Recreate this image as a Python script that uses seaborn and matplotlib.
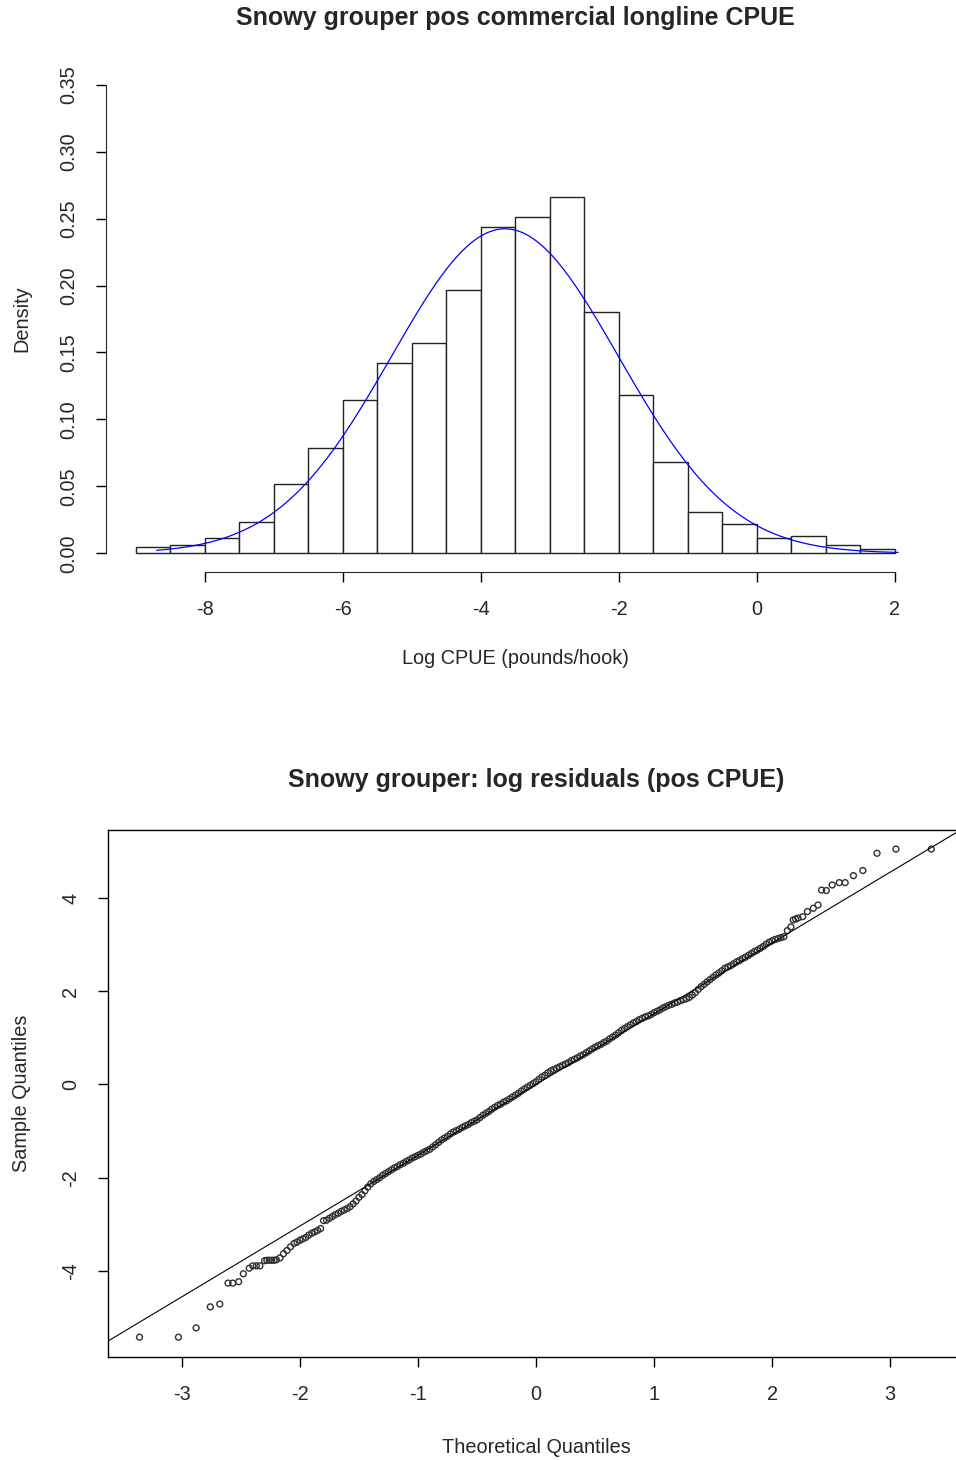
import numpy as np
import matplotlib
matplotlib.use("Agg")
import matplotlib.pyplot as plt
import seaborn as sns
from matplotlib.ticker import FormatStrFormatter

# Histogram of log CPUE (density per 0.5 bin)
hist_edges = [-9.0, -8.5, -8.0, -7.5, -7.0, -6.5, -6.0, -5.5, -5.0, -4.5, -4.0, -3.5,
              -3.0, -2.5, -2.0, -1.5, -1.0, -0.5, 0.0, 0.5, 1.0, 1.5, 2.0]
hist_density = [0.0045, 0.0064, 0.0112, 0.0236, 0.0518, 0.0785, 0.1144, 0.1418,
                0.1568, 0.1970, 0.2438, 0.2515, 0.2660, 0.1805, 0.1180, 0.0680,
                0.0311, 0.0217, 0.0112, 0.0130, 0.0064, 0.0034]

# fitted normal overlay
norm_mean = -3.65
norm_sd = 1.646
curve_from, curve_to = -8.70, 2.05

# QQ plot of log residuals (theoretical, sample)
low_theo = [-3.36, -3.03, -2.88, -2.76, -2.68, -2.61, -2.57, -2.52, -2.48, -2.43,
            -2.40, -2.37, -2.34, -2.30, -2.28, -2.26, -2.24, -2.22, -2.20, -2.17,
            -2.14, -2.11, -2.08, -2.05, -2.025]
low_sample = [-5.42, -5.42, -5.22, -4.77, -4.71, -4.26, -4.26, -4.23, -4.06, -3.94,
              -3.89, -3.89, -3.89, -3.78, -3.77, -3.77, -3.77, -3.77, -3.76, -3.72,
              -3.63, -3.56, -3.48, -3.41, -3.38]

mid_theo = [-2.000, -1.975, -1.950, -1.925, -1.900, -1.875, -1.850, -1.825, -1.800, -1.775,
            -1.750, -1.725, -1.700, -1.675, -1.650, -1.625, -1.600, -1.575, -1.550, -1.525,
            -1.500, -1.475, -1.450, -1.425, -1.400, -1.375, -1.350, -1.325, -1.300, -1.275,
            -1.250, -1.225, -1.200, -1.175, -1.150, -1.125, -1.100, -1.075, -1.050, -1.025,
            -1.000, -0.975, -0.950, -0.925, -0.900, -0.875, -0.850, -0.825, -0.800, -0.775,
            -0.750, -0.725, -0.700, -0.675, -0.650, -0.625, -0.600, -0.575, -0.550, -0.525,
            -0.500, -0.475, -0.450, -0.425, -0.400, -0.375, -0.350, -0.325, -0.300, -0.275,
            -0.250, -0.225, -0.200, -0.175, -0.150, -0.125, -0.100, -0.075, -0.050, -0.025,
            0.000, 0.025, 0.050, 0.075, 0.100, 0.125, 0.150, 0.175, 0.200, 0.225,
            0.250, 0.275, 0.300, 0.325, 0.350, 0.375, 0.400, 0.425, 0.450, 0.475,
            0.500, 0.525, 0.550, 0.575, 0.600, 0.625, 0.650, 0.675, 0.700, 0.725,
            0.750, 0.775, 0.800, 0.825, 0.850, 0.875, 0.900, 0.925, 0.950, 0.975,
            1.000, 1.025, 1.050, 1.075, 1.100, 1.125, 1.150, 1.175, 1.200, 1.225,
            1.250, 1.275, 1.300, 1.325, 1.350, 1.375, 1.400, 1.425, 1.450, 1.475,
            1.500, 1.525, 1.550, 1.575, 1.600, 1.625, 1.650, 1.675, 1.700, 1.725,
            1.750, 1.775, 1.800, 1.825, 1.850, 1.875, 1.900, 1.925, 1.950, 1.975,
            2.000, 2.025, 2.050, 2.075, 2.100]
mid_sample = [-3.34, -3.31, -3.28, -3.23, -3.19, -3.16, -3.13, -3.09, -2.92, -2.91,
              -2.87, -2.83, -2.79, -2.76, -2.72, -2.69, -2.66, -2.62, -2.56, -2.50,
              -2.42, -2.36, -2.28, -2.20, -2.13, -2.08, -2.04, -2.00, -1.95, -1.91,
              -1.87, -1.83, -1.79, -1.76, -1.72, -1.69, -1.65, -1.62, -1.58, -1.55,
              -1.52, -1.49, -1.45, -1.42, -1.39, -1.34, -1.29, -1.24, -1.19, -1.15,
              -1.11, -1.06, -1.02, -0.99, -0.96, -0.92, -0.89, -0.86, -0.82, -0.79,
              -0.76, -0.71, -0.66, -0.62, -0.58, -0.53, -0.49, -0.45, -0.42, -0.38,
              -0.35, -0.31, -0.27, -0.23, -0.19, -0.14, -0.10, -0.06, -0.02, 0.02,
              0.06, 0.11, 0.16, 0.20, 0.25, 0.29, 0.32, 0.35, 0.38, 0.41,
              0.44, 0.47, 0.51, 0.54, 0.57, 0.61, 0.64, 0.68, 0.72, 0.76,
              0.80, 0.83, 0.86, 0.90, 0.93, 0.98, 1.02, 1.06, 1.11, 1.16,
              1.20, 1.24, 1.28, 1.32, 1.35, 1.39, 1.42, 1.45, 1.47, 1.50,
              1.54, 1.57, 1.60, 1.64, 1.67, 1.70, 1.72, 1.75, 1.77, 1.80,
              1.82, 1.84, 1.87, 1.92, 1.97, 2.04, 2.10, 2.15, 2.20, 2.25,
              2.30, 2.35, 2.39, 2.44, 2.49, 2.52, 2.55, 2.59, 2.63, 2.66,
              2.70, 2.73, 2.77, 2.81, 2.85, 2.88, 2.92, 2.96, 3.01, 3.05,
              3.08, 3.11, 3.13, 3.15, 3.17]

high_theo = [2.13, 2.16, 2.18, 2.20, 2.22, 2.26, 2.30, 2.35, 2.39, 2.42,
             2.46, 2.51, 2.57, 2.62, 2.69, 2.77, 2.89, 3.05, 3.35]
high_sample = [3.30, 3.38, 3.53, 3.55, 3.57, 3.60, 3.71, 3.78, 3.85, 4.17,
               4.16, 4.28, 4.33, 4.33, 4.48, 4.59, 4.96, 5.05, 5.05]

qq_intercept = 0.0
qq_slope = 1.5175

# style: R base graphics look
sns.set_style("ticks")
plt.rcParams['font.family'] = ['Liberation Sans', 'DejaVu Sans']
plt.rcParams['axes.unicode_minus'] = False
fs = 14.3
fs_title = 18

fig = plt.figure(figsize=(9.56, 14.6), dpi=100)

# ---- top: histogram
ax1 = fig.add_axes([0.11046, 0.60822, 0.8571, 0.34658])
centers = [(a + b) / 2 for a, b in zip(hist_edges[:-1], hist_edges[1:])]
sns.histplot(x=centers, weights=hist_density, bins=hist_edges, stat="count",
             color="white", edgecolor="#222222", linewidth=1.0, alpha=1, ax=ax1)
xs = np.linspace(curve_from, curve_to, 400)
ys = np.exp(-0.5 * ((xs - norm_mean) / norm_sd) ** 2) / (norm_sd * np.sqrt(2 * np.pi))
sns.lineplot(x=xs, y=ys, color="blue", linewidth=0.9, sort=False, estimator=None, ax=ax1)

ax1.set_xlim(-9.44, 2.44)
ax1.set_ylim(-0.014, 0.364)
ax1.set_xticks([-8, -6, -4, -2, 0, 2])
ax1.set_yticks([0.0, 0.05, 0.10, 0.15, 0.20, 0.25, 0.30, 0.35])
ax1.yaxis.set_major_formatter(FormatStrFormatter('%.2f'))
for s in ['top', 'right']:
    ax1.spines[s].set_visible(False)
ax1.spines['left'].set_bounds(0, 0.35)
ax1.spines['bottom'].set_bounds(-8, 2)
ax1.tick_params(axis='both', labelsize=fs, length=7, width=1, pad=13, color='black')
ax1.tick_params(axis='y', labelrotation=90)
for lab in ax1.get_yticklabels():
    lab.set_va('center')
ax1.set_xlabel("Log CPUE (pounds/hook)", fontsize=fs)
ax1.set_ylabel("Density", fontsize=fs)
ax1.xaxis.set_label_coords(0.5, -0.170)
ax1.xaxis.label.set_va('center')
ax1.yaxis.set_label_coords(-0.102, 0.5)
ax1.yaxis.label.set_va('center')
ax1.set_title("Snowy grouper pos commercial longline CPUE", fontsize=fs_title,
              fontweight='bold', y=1.095, va='center', pad=0)

# ---- bottom: QQ plot
ax2 = fig.add_axes([0.11297, 0.07055, 0.8954, 0.36096])
qq_theo = low_theo + mid_theo + high_theo
qq_sample = low_sample + mid_sample + high_sample
sns.scatterplot(x=qq_theo, y=qq_sample, marker='o', s=18, facecolor='none',
                edgecolor='#303030', linewidth=1.0, ax=ax2)
ax2.axline((0, qq_intercept), slope=qq_slope, color='black', linewidth=0.8)

ax2.set_xlim(-3.627, 3.627)
ax2.set_ylim(-5.845, 5.459)
ax2.set_xticks([-3, -2, -1, 0, 1, 2, 3])
ax2.set_yticks([-4, -2, 0, 2, 4])
for s in ax2.spines.values():
    s.set_visible(True)
    s.set_color('black')
    s.set_linewidth(1.0)
ax2.tick_params(axis='both', labelsize=fs, length=7, width=1, pad=13, color='black')
ax2.tick_params(axis='y', labelrotation=90)
for lab in ax2.get_yticklabels():
    lab.set_va('center')
ax2.set_xlabel("Theoretical Quantiles", fontsize=fs)
ax2.set_ylabel("Sample Quantiles", fontsize=fs)
ax2.xaxis.set_label_coords(0.5, -0.171)
ax2.xaxis.label.set_va('center')
ax2.yaxis.set_label_coords(-0.1005, 0.5)
ax2.yaxis.label.set_va('center')
ax2.set_title("Snowy grouper: log residuals (pos CPUE)", fontsize=fs_title,
              fontweight='bold', y=1.095, va='center', pad=0)

fig.savefig("out.png", dpi=100, facecolor='white')
